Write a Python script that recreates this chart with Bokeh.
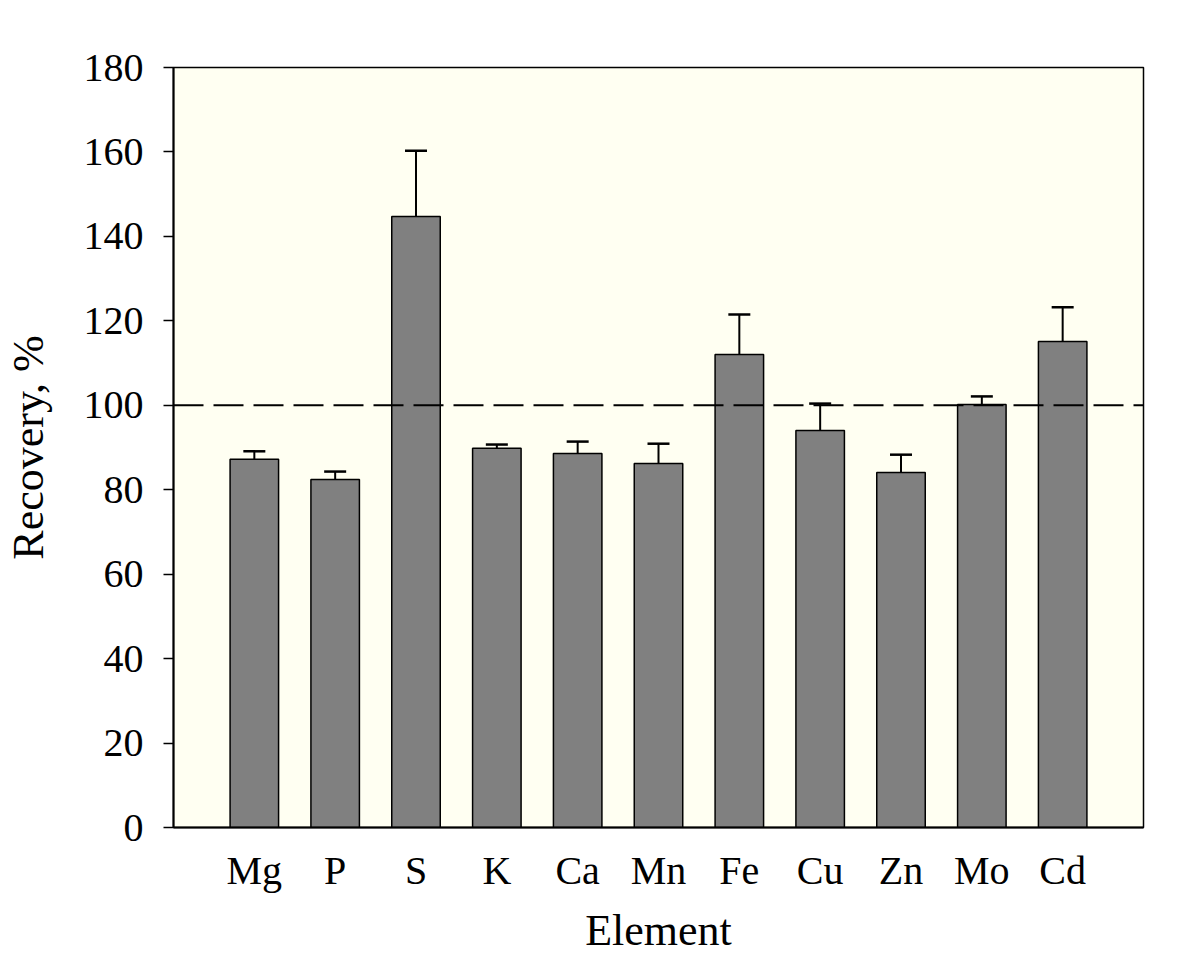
from bokeh.plotting import figure
from bokeh.models import ColumnDataSource, Whisker, TeeHead, Span, FixedTicker, Range1d
from bokeh.embed import file_html
from bokeh.resources import INLINE

elements = ["Mg", "P", "S", "K", "Ca", "Mn", "Fe", "Cu", "Zn", "Mo", "Cd"]
recovery = [87.2, 82.4, 144.7, 89.8, 88.6, 86.2, 112.0, 94.0, 84.1, 100.2, 115.1]
error = [1.9, 1.9, 15.6, 0.9, 2.8, 4.7, 9.5, 6.4, 4.2, 1.9, 8.1]
y_ticks = [0, 20, 40, 60, 80, 100, 120, 140, 160, 180]

xs = list(range(1, len(elements) + 1))
upper = [r + e for r, e in zip(recovery, error)]
src = ColumnDataSource(dict(x=xs, top=recovery, upper=upper))

FONT = "Liberation Serif"

p = figure(width=1184, height=957, output_backend="svg", toolbar_location=None,
           x_range=Range1d(0, len(elements) + 1), y_range=Range1d(0, 180),
           min_border_left=172, min_border_right=41, min_border_top=67, min_border_bottom=130)
p.background_fill_color = "#FFFFF2"
p.border_fill_color = "white"
p.outline_line_color = "black"
p.outline_line_width = 1.5
p.grid.visible = False

p.vbar(x="x", top="top", bottom=0, width=0.6, source=src,
       fill_color="#808080", line_color="black", line_width=1.5)

w = Whisker(base="x", lower="top", upper="upper", source=src,
            line_color="black", line_width=2,
            upper_head=TeeHead(size=22, line_color="black", line_width=2.5),
            lower_head=None, level="underlay")
p.add_layout(w)

p.add_layout(Span(location=100, dimension="width", line_color="black",
                  line_width=2, line_dash="30 10"))

for ax in (p.xaxis[0], p.yaxis[0]):
    ax.axis_line_width = 2
    ax.minor_tick_line_color = None
    ax.major_label_text_font = FONT
    ax.major_label_text_font_size = "40px"
    ax.major_label_text_color = "black"
    ax.axis_label_text_font = FONT
    ax.axis_label_text_font_size = "44px"
    ax.axis_label_text_font_style = "normal"
    ax.axis_label_text_color = "black"
    ax.axis_line_color = "black"

p.yaxis.ticker = FixedTicker(ticks=y_ticks)
p.yaxis.major_tick_line_width = 1.5
p.yaxis.major_tick_line_color = "black"
p.yaxis.major_tick_out = 10
p.yaxis.major_tick_in = 0
p.yaxis.major_label_standoff = 20
p.yaxis.axis_label = "Recovery, %"
p.yaxis.axis_label_standoff = 28

p.xaxis.ticker = FixedTicker(ticks=xs)
p.xaxis.major_label_overrides = {x: e for x, e in zip(xs, elements)}
p.xaxis.major_tick_line_color = None
p.xaxis.major_tick_out = 0
p.xaxis.major_tick_in = 0
p.xaxis.major_label_standoff = 20
p.xaxis.axis_label = "Element"
p.xaxis.axis_label_standoff = 10

open("out.html", "w").write(file_html(p, INLINE))
